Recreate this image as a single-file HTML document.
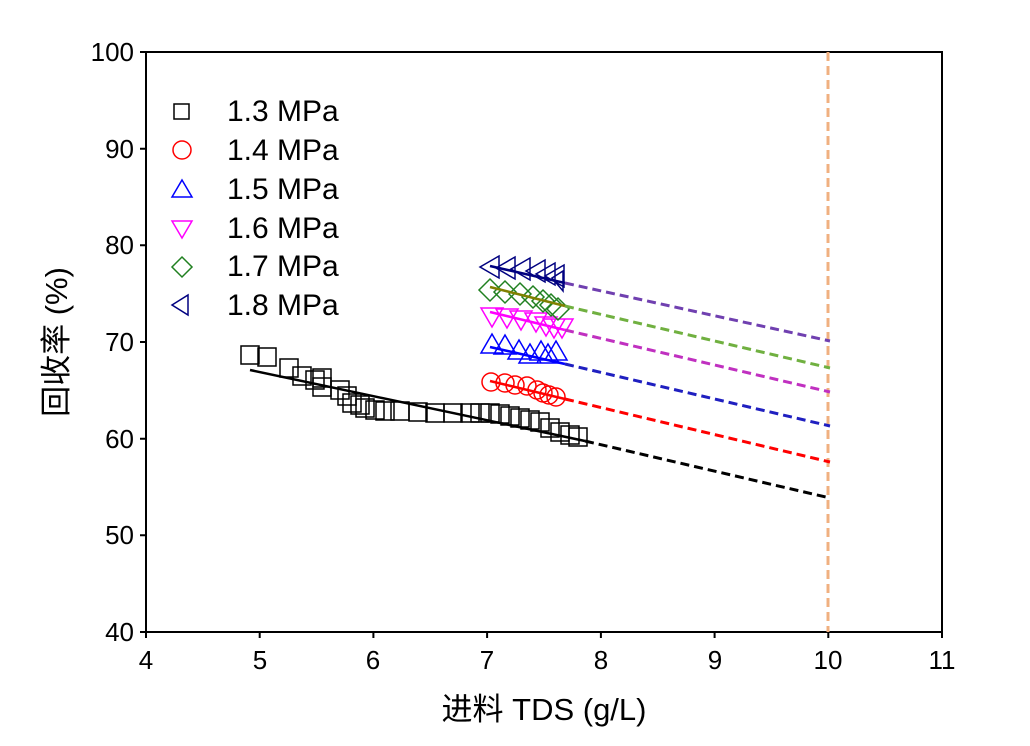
<!DOCTYPE html><html><head><style>body{margin:0;background:#fff}svg{display:block}text{font-family:"Liberation Sans","Noto Sans CJK SC",sans-serif}</style></head><body>
<svg width="1030" height="746" viewBox="0 0 1030 746">
<rect width="1030" height="746" fill="#fff"/>
<g stroke="#000" stroke-width="2" fill="none">
<rect x="146" y="52" width="796" height="580"/>
<path d="M146 52h-6M146 148.7h-6M146 245.3h-6M146 342h-6M146 438.7h-6M146 535.3h-6M146 632h-6M146 632v6M259.7 632v6M373.4 632v6M487.1 632v6M600.9 632v6M714.6 632v6M828.3 632v6M942 632v6"/>
</g>
<g font-size="26" text-anchor="end" fill="#000">
<text x="134" y="61">100</text><text x="134" y="158">90</text><text x="134" y="254">80</text><text x="134" y="351">70</text><text x="134" y="448">60</text><text x="134" y="544">50</text><text x="134" y="641">40</text></g>
<g font-size="26" text-anchor="middle" fill="#000">
<text x="146" y="669">4</text><text x="260" y="669">5</text><text x="373" y="669">6</text><text x="487" y="669">7</text><text x="601" y="669">8</text><text x="715" y="669">9</text><text x="828" y="669">10</text><text x="942" y="669">11</text>
<text x="544" y="720" font-size="31">进料 TDS (g/L)</text>
<text transform="translate(67 342) rotate(-90)" font-size="31">回收率 (%)</text></g>
<line x1="828" y1="52" x2="828" y2="632" stroke="#f0b080" stroke-width="3" stroke-dasharray="9,5"/>
<g fill="none" stroke="#000" stroke-width="1.5">
<g><rect x="241" y="346" width="18" height="18"/><rect x="258" y="348" width="18" height="18"/><rect x="280" y="359" width="18" height="18"/><rect x="293" y="367" width="18" height="18"/><rect x="306" y="371" width="18" height="18"/><rect x="313" y="378" width="18" height="18"/><rect x="313" y="369" width="18" height="18"/><rect x="331" y="381" width="18" height="18"/><rect x="338" y="387" width="18" height="18"/><rect x="343" y="394" width="18" height="18"/><rect x="351" y="396" width="18" height="18"/><rect x="356" y="399" width="18" height="18"/><rect x="366" y="401" width="18" height="18"/><rect x="376" y="402" width="18" height="18"/><rect x="391" y="402" width="18" height="18"/><rect x="409" y="403" width="18" height="18"/><rect x="426" y="404" width="18" height="18"/><rect x="444" y="404" width="18" height="18"/><rect x="461" y="404" width="18" height="18"/><rect x="471" y="404" width="18" height="18"/><rect x="481" y="404" width="18" height="18"/><rect x="491" y="405" width="18" height="18"/><rect x="501" y="407" width="18" height="18"/><rect x="511" y="409" width="18" height="18"/><rect x="521" y="411" width="18" height="18"/><rect x="531" y="413" width="18" height="18"/><rect x="541" y="419" width="18" height="18"/><rect x="551" y="423" width="18" height="18"/><rect x="561" y="426" width="18" height="18"/><rect x="569" y="428" width="18" height="18"/></g>
<line x1="250" y1="370" x2="585" y2="441" stroke-width="2.5"/>
</g>
<line x1="585" y1="441" x2="830" y2="498" stroke="#000" stroke-width="3" stroke-dasharray="9,5"/>
<g fill="none" stroke="#f00" stroke-width="1.5"><circle cx="491" cy="382" r="9"/><circle cx="505" cy="383" r="9"/><circle cx="515" cy="385" r="9"/><circle cx="527" cy="386" r="9"/><circle cx="537" cy="390" r="9"/><circle cx="543" cy="393" r="9"/><circle cx="549" cy="395" r="9"/><circle cx="556" cy="397" r="9"/><line x1="490" y1="381" x2="565" y2="399" stroke-width="2.5"/></g>
<line x1="565" y1="399" x2="830" y2="426" stroke="none"/>
<line x1="565" y1="399" x2="830" y2="462" stroke="#f00" stroke-width="3" stroke-dasharray="9,5"/>
<g fill="none" stroke="#00f" stroke-width="1.5"><path d="M492 334l11 19h-22z M505 335l11 19h-22z M519 340l11 19h-22z M530 344l11 19h-22z M541 341l11 19h-22z M548 344l11 19h-22z M556 341l11 19h-22z"/><line x1="490" y1="347" x2="565" y2="364" stroke-width="2.5"/></g>
<line x1="565" y1="364" x2="830" y2="426" stroke="#1f1fc0" stroke-width="3" stroke-dasharray="9,5"/>
<g fill="none" stroke="#f0f" stroke-width="1.5"><path d="M481 308h22l-11 19z M496 309h22l-11 19z M510 311h22l-11 19z M525 313h22l-11 19z M535 317h22l-11 19z M543 319h22l-11 19z M551 319h22l-11 19z"/><line x1="490" y1="312" x2="565" y2="330" stroke-width="2.5"/></g>
<line x1="565" y1="330" x2="830" y2="392" stroke="#c030c0" stroke-width="3" stroke-dasharray="9,5"/>
<g fill="none" stroke="#208020" stroke-width="1.5"><path d="M490 279l11 11-11 11-11-11z M505 281l11 11-11 11-11-11z M520 283l11 11-11 11-11-11z M533 286l11 11-11 11-11-11z M543 290l11 11-11 11-11-11z M551 294l11 11-11 11-11-11z M558 298l11 11-11 11-11-11z"/><line x1="490" y1="287" x2="565" y2="306" stroke="#808000" stroke-width="2.5"/></g>
<line x1="565" y1="306" x2="830" y2="368" stroke="#70b040" stroke-width="3" stroke-dasharray="9,5"/>
<g fill="none" stroke="#000080" stroke-width="1.5"><path d="M480 267l19-11v22z M496 268l19-11v22z M511 269l19-11v22z M526 271l19-11v22z M536 274l19-11v22z M545 276l19-11v22z M552 278l11-7v20z"/><line x1="490" y1="266" x2="565" y2="283" stroke-width="2.5"/></g>
<line x1="565" y1="283" x2="830" y2="341" stroke="#7040b0" stroke-width="3" stroke-dasharray="9,5"/>
<g fill="none" stroke-width="1.5">
<rect x="174" y="104" width="15" height="15" stroke="#000"/>
<circle cx="182" cy="150" r="9" stroke="#f00"/>
<path d="M182 180l10 17h-20z" stroke="#00f"/>
<path d="M172 221h20l-10 17z" stroke="#f0f"/>
<path d="M182 257l10 10-10 10-10-10z" stroke="#208020"/>
<path d="M172 305l16-10v20z" stroke="#000080"/>
</g>
<g font-size="30" fill="#000"><text x="227" y="121">1.3 MPa</text><text x="227" y="160">1.4 MPa</text><text x="227" y="199">1.5 MPa</text><text x="227" y="238">1.6 MPa</text><text x="227" y="276">1.7 MPa</text><text x="227" y="315">1.8 MPa</text></g>
</svg></body></html>
